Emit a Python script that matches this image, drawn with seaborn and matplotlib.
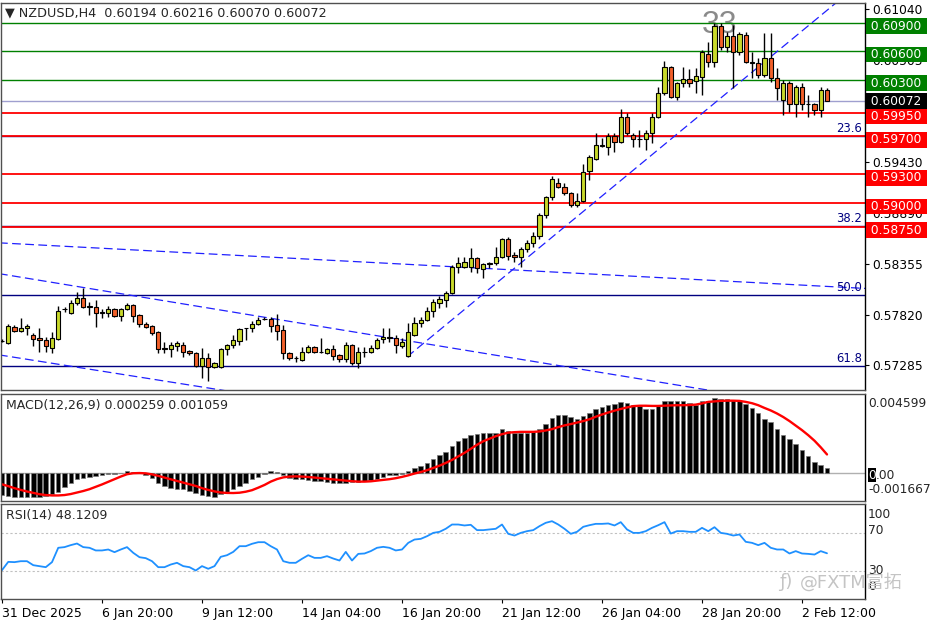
import matplotlib
matplotlib.use("Agg")
import matplotlib.pyplot as plt
import matplotlib.transforms as mtransforms
import numpy as np
import pandas as pd
import seaborn as sns

sns.set_theme(style="white")
plt.rcParams["font.family"] = ["DejaVu Sans", "Noto Sans CJK SC"]

# NZDUSD H4 candles
opens = [0.57546, 0.57524, 0.57695, 0.57649, 0.57675, 0.57606, 0.57576, 0.57551, 0.57468, 0.57566,
         0.57880, 0.57840, 0.57946, 0.57995, 0.57911, 0.57906, 0.57847, 0.57834, 0.57880, 0.57810,
         0.57880, 0.57923, 0.57817, 0.57722, 0.57702, 0.57636, 0.57466, 0.57458, 0.57491, 0.57501,
         0.57435, 0.57412, 0.57283, 0.57362, 0.57273, 0.57273, 0.57458, 0.57498, 0.57544, 0.57675,
         0.57679, 0.57722, 0.57774, 0.57777, 0.57712, 0.57656, 0.57412, 0.57365, 0.57345, 0.57422,
         0.57478, 0.57425, 0.57412, 0.57458, 0.57392, 0.57352, 0.57501, 0.57307, 0.57425, 0.57425,
         0.57468, 0.57566, 0.57589, 0.57573, 0.57491, 0.57385, 0.57606, 0.57735, 0.57767, 0.57857,
         0.57946, 0.57973, 0.58048, 0.58327, 0.58327, 0.58327, 0.58417, 0.58301, 0.58359, 0.58361,
         0.58433, 0.58621, 0.58450, 0.58427, 0.58512, 0.58578, 0.58651, 0.58872, 0.59066, 0.59205,
         0.59171, 0.59100, 0.58977, 0.59020, 0.59337, 0.59465, 0.59605, 0.59593, 0.59709, 0.59637,
         0.59904, 0.59716, 0.59676, 0.59673, 0.59733, 0.59904, 0.60155, 0.60432, 0.60121, 0.60261,
         0.60306, 0.60284, 0.60332, 0.60567, 0.60487, 0.60867, 0.60649, 0.60761, 0.60593, 0.60771,
         0.60488, 0.60472, 0.60349, 0.60527, 0.60322, 0.60085, 0.60267, 0.60040, 0.60221, 0.60040,
         0.60040, 0.59983, 0.60194]
highs = [0.57566, 0.57722, 0.57712, 0.57784, 0.57722, 0.57626, 0.57679, 0.57589, 0.57639, 0.57913,
         0.57900, 0.57973, 0.58061, 0.58101, 0.57956, 0.57973, 0.57880, 0.57913, 0.57893, 0.57893,
         0.57946, 0.57938, 0.57827, 0.57745, 0.57712, 0.57646, 0.57534, 0.57534, 0.57544, 0.57534,
         0.57445, 0.57425, 0.57468, 0.57412, 0.57320, 0.57471, 0.57511, 0.57606, 0.57685, 0.57682,
         0.57755, 0.57800, 0.57800, 0.57800, 0.57827, 0.57709, 0.57425, 0.57380, 0.57484, 0.57501,
         0.57491, 0.57573, 0.57471, 0.57501, 0.57405, 0.57534, 0.57511, 0.57484, 0.57484, 0.57501,
         0.57573, 0.57679, 0.57679, 0.57606, 0.57573, 0.57735, 0.57800, 0.57800, 0.57900, 0.57985,
         0.58018, 0.58071, 0.58344, 0.58433, 0.58433, 0.58525, 0.58430, 0.58364, 0.58377, 0.58538,
         0.58631, 0.58638, 0.58483, 0.58538, 0.58612, 0.58694, 0.58889, 0.59073, 0.59284, 0.59261,
         0.59211, 0.59116, 0.59100, 0.59406, 0.59505, 0.59733, 0.59683, 0.59733, 0.59739, 0.59993,
         0.59944, 0.59733, 0.59766, 0.59766, 0.59944, 0.60221, 0.60495, 0.60445, 0.60274, 0.60438,
         0.60412, 0.60422, 0.60613, 0.60699, 0.60894, 0.60894, 0.60804, 0.60877, 0.60798, 0.60804,
         0.60593, 0.60527, 0.60788, 0.60788, 0.60422, 0.60294, 0.60287, 0.60244, 0.60261, 0.60138,
         0.60050, 0.60227, 0.60216]
lows = [0.57531, 0.57511, 0.57636, 0.57636, 0.57606, 0.57491, 0.57428, 0.57428, 0.57418, 0.57551,
        0.57850, 0.57832, 0.57923, 0.57893, 0.57817, 0.57689, 0.57784, 0.57800, 0.57797, 0.57752,
        0.57868, 0.57745, 0.57695, 0.57679, 0.57606, 0.57418, 0.57418, 0.57378, 0.57438, 0.57378,
        0.57400, 0.57273, 0.57151, 0.57117, 0.57263, 0.57257, 0.57395, 0.57468, 0.57501, 0.57551,
        0.57639, 0.57712, 0.57762, 0.57639, 0.57551, 0.57352, 0.57345, 0.57323, 0.57330, 0.57412,
        0.57415, 0.57412, 0.57405, 0.57345, 0.57323, 0.57323, 0.57290, 0.57257, 0.57378, 0.57415,
        0.57461, 0.57518, 0.57534, 0.57412, 0.57468, 0.57375, 0.57596, 0.57695, 0.57752, 0.57800,
        0.57890, 0.57900, 0.58038, 0.58256, 0.58314, 0.58272, 0.58256, 0.58206, 0.58311, 0.58344,
        0.58417, 0.58394, 0.58377, 0.58327, 0.58483, 0.58538, 0.58618, 0.58839, 0.59027, 0.59155,
        0.59083, 0.58960, 0.58960, 0.59013, 0.59244, 0.59452, 0.59593, 0.59505, 0.59538, 0.59627,
        0.59716, 0.59593, 0.59593, 0.59558, 0.59627, 0.59894, 0.60138, 0.60105, 0.60085, 0.60221,
        0.60221, 0.60155, 0.60138, 0.60438, 0.60438, 0.60613, 0.60593, 0.60211, 0.60560, 0.60472,
        0.60316, 0.60316, 0.60332, 0.60277, 0.60085, 0.59927, 0.59960, 0.59910, 0.59983, 0.59904,
        0.59927, 0.59904, 0.60070]
closes = [0.57541, 0.57702, 0.57649, 0.57679, 0.57702, 0.57566, 0.57551, 0.57494, 0.57573, 0.57860,
          0.57883, 0.57946, 0.57995, 0.57906, 0.57903, 0.57834, 0.57842, 0.57880, 0.57810, 0.57880,
          0.57923, 0.57810, 0.57722, 0.57695, 0.57629, 0.57458, 0.57461, 0.57498, 0.57518, 0.57428,
          0.57412, 0.57283, 0.57362, 0.57273, 0.57307, 0.57458, 0.57498, 0.57551, 0.57672, 0.57679,
          0.57722, 0.57767, 0.57777, 0.57702, 0.57649, 0.57412, 0.57362, 0.57362, 0.57422, 0.57478,
          0.57422, 0.57422, 0.57458, 0.57385, 0.57352, 0.57501, 0.57307, 0.57432, 0.57422, 0.57468,
          0.57551, 0.57589, 0.57573, 0.57501, 0.57534, 0.57639, 0.57735, 0.57762, 0.57860, 0.57956,
          0.57985, 0.58051, 0.58327, 0.58367, 0.58371, 0.58423, 0.58311, 0.58351, 0.58361, 0.58433,
          0.58621, 0.58443, 0.58427, 0.58515, 0.58578, 0.58651, 0.58872, 0.59066, 0.59254, 0.59171,
          0.59100, 0.58977, 0.59020, 0.59327, 0.59482, 0.59610, 0.59603, 0.59709, 0.59637, 0.59904,
          0.59733, 0.59676, 0.59673, 0.59733, 0.59904, 0.60155, 0.60432, 0.60115, 0.60261, 0.60306,
          0.60267, 0.60339, 0.60590, 0.60487, 0.60867, 0.60649, 0.60761, 0.60593, 0.60781, 0.60482,
          0.60472, 0.60349, 0.60527, 0.60322, 0.60211, 0.60267, 0.60040, 0.60227, 0.60040, 0.60043,
          0.59983, 0.60195, 0.60072]

# MACD(12,26,9): histogram (main) and signal line
macd_main = [-0.001342, -0.001377, -0.001418, -0.001418, -0.001418, -0.001418, -0.001418, -0.001377, -0.001282, -0.001141,
             -0.000845, -0.000591, -0.000355, -0.000296, -0.000236, -0.000195, -0.000136, -0.000100, -0.000059, -0.000018,
             0.000100, 0.000018, -0.000041, -0.000160, -0.000296, -0.000591, -0.000786, -0.000887, -0.000946, -0.000987,
             -0.001082, -0.001223, -0.001342, -0.001377, -0.001418, -0.001282, -0.001141, -0.000987, -0.000786, -0.000591,
             -0.000396, -0.000236, -0.000100, 0.000077, 0.000059, -0.000160, -0.000296, -0.000355, -0.000396, -0.000431,
             -0.000491, -0.000491, -0.000532, -0.000591, -0.000632, -0.000591, -0.000550, -0.000550, -0.000491, -0.000431,
             -0.000355, -0.000236, -0.000160, -0.000136, -0.000059, 0.000100, 0.000254, 0.000396, 0.000573, 0.000810,
             0.001005, 0.001223, 0.001537, 0.001832, 0.002027, 0.002204, 0.002264, 0.002305, 0.002305, 0.002323,
             0.002524, 0.002405, 0.002305, 0.002305, 0.002323, 0.002364, 0.002559, 0.002855, 0.003191, 0.003386,
             0.003386, 0.003251, 0.003150, 0.003310, 0.003505, 0.003741, 0.003842, 0.003977, 0.004037, 0.004137,
             0.004096, 0.003977, 0.003901, 0.003741, 0.003741, 0.003942, 0.004178, 0.004178, 0.004178, 0.004178,
             0.004096, 0.003977, 0.004178, 0.004196, 0.004373, 0.004332, 0.004297, 0.004255, 0.004178, 0.004037,
             0.003782, 0.003505, 0.003150, 0.002955, 0.002559, 0.002204, 0.001968, 0.001673, 0.001300, 0.000946,
             0.000591, 0.000414, 0.000259]
macd_signal = [-0.000691, -0.000798, -0.000916, -0.001017, -0.001111, -0.001194, -0.001271, -0.001318, -0.001342, -0.001342,
               -0.001318, -0.001259, -0.001170, -0.001082, -0.000975, -0.000839, -0.000697, -0.000544, -0.000396, -0.000236,
               -0.000100, -0.000041, -0.000030, -0.000047, -0.000106, -0.000195, -0.000296, -0.000396, -0.000491, -0.000591,
               -0.000691, -0.000786, -0.000916, -0.001017, -0.001105, -0.001170, -0.001194, -0.001200, -0.001182, -0.001123,
               -0.001034, -0.000887, -0.000727, -0.000532, -0.000384, -0.000284, -0.000236, -0.000225, -0.000236, -0.000260,
               -0.000296, -0.000331, -0.000372, -0.000402, -0.000437, -0.000473, -0.000508, -0.000532, -0.000532, -0.000514,
               -0.000473, -0.000431, -0.000390, -0.000331, -0.000254, -0.000165, -0.000059, 0.000030, 0.000136, 0.000266,
               0.000402, 0.000561, 0.000739, 0.000946, 0.001152, 0.001389, 0.001625, 0.001832, 0.001980, 0.002128,
               0.002246, 0.002334, 0.002364, 0.002382, 0.002382, 0.002382, 0.002405, 0.002464, 0.002541, 0.002660,
               0.002760, 0.002837, 0.002925, 0.003014, 0.003120, 0.003268, 0.003398, 0.003516, 0.003623, 0.003723,
               0.003812, 0.003889, 0.003912, 0.003912, 0.003901, 0.003901, 0.003918, 0.003930, 0.003942, 0.003942,
               0.003954, 0.003977, 0.004048, 0.004137, 0.004167, 0.004196, 0.004208, 0.004208, 0.004196, 0.004137,
               0.004060, 0.003942, 0.003782, 0.003635, 0.003457, 0.003251, 0.003014, 0.002748, 0.002482, 0.002187,
               0.001862, 0.001478, 0.001059]

# RSI(14)
rsi = [30.4, 39.1, 38.8, 39.8, 39.8, 35.6, 34.6, 33.5, 38.8, 53.9,
       54.6, 56.7, 58.4, 54.6, 53.9, 51.1, 51.1, 52.1, 49.3, 52.1,
       54.6, 48.6, 44.0, 43.0, 39.8, 33.5, 33.5, 36.3, 38.1, 34.6,
       33.5, 30.0, 34.6, 31.8, 34.6, 44.4, 46.1, 49.6, 55.6, 55.6,
       58.1, 59.8, 59.8, 55.6, 52.1, 39.8, 38.1, 38.1, 42.3, 46.1,
       43.3, 43.3, 45.1, 42.6, 40.5, 49.6, 40.5, 47.5, 47.9, 50.4,
       53.9, 54.9, 53.9, 51.1, 52.1, 59.1, 62.6, 63.3, 66.1, 69.6,
       70.7, 73.9, 78.4, 78.4, 77.4, 78.1, 72.5, 72.5, 73.2, 73.9,
       78.4, 68.6, 66.8, 69.6, 71.4, 72.5, 76.7, 80.2, 81.9, 78.4,
       73.9, 68.6, 70.7, 76.0, 77.7, 79.1, 79.1, 79.5, 77.4, 80.9,
       73.2, 69.6, 69.6, 71.4, 74.9, 77.7, 80.9, 68.9, 71.4, 71.4,
       70.7, 70.7, 74.9, 71.4, 75.6, 69.6, 68.6, 66.8, 67.9, 60.2,
       59.1, 56.7, 59.1, 53.9, 52.1, 52.1, 47.9, 50.4, 47.9, 47.5,
       46.8, 50.4, 48.12]

date_ticks = [0, 16, 32, 48, 64, 80, 96, 112, 128]
date_labels = ["31 Dec 2025", "6 Jan 20:00", "9 Jan 12:00", "14 Jan 04:00", "16 Jan 20:00",
               "21 Jan 12:00", "26 Jan 04:00", "28 Jan 20:00", "2 Feb 12:00"]
price_ticks = [0.61040, 0.60505, 0.59430, 0.58890, 0.58355, 0.57820, 0.57285]

green_levels = [0.60900, 0.60600, 0.60300]
red_levels = [0.59950, 0.59700, 0.59300, 0.59000, 0.58750]
last_price = 0.60072
fib_levels = [0.59703, 0.58755, 0.58023, 0.57279]
fib_labels = ["23.6", "38.2", "50.0", "61.8"]

# dashed trend lines, (bar, price) anchors
trend_lines = [
    [(-1.0, 0.58580), (138.5, 0.58096)],
    [(-1.0, 0.58259), (115.0, 0.57003)],
    [(-1.0, 0.57402), (36.0, 0.57016)],
    [(64.8, 0.57375), (135.0, 0.61194)],
]

BULL = "#c9d92b"
BEAR = "#f2602a"

ohlc = pd.DataFrame({"open": opens, "high": highs, "low": lows, "close": closes})
ohlc["bar"] = np.arange(len(ohlc))
ohlc["up"] = ohlc["close"] >= ohlc["open"]
ind = pd.DataFrame({"bar": ohlc["bar"], "macd": macd_main, "signal": macd_signal, "rsi": rsi})

W, H = 936, 624
fig = plt.figure(figsize=(W / 100, H / 100), dpi=100)
fig.patch.set_facecolor("white")


def box(top, bottom):
    return [1 / W, 1 - bottom / H, 864 / W, (bottom - top) / H]


ax = fig.add_axes(box(3, 390))
ax_m = fig.add_axes(box(394, 501))
ax_r = fig.add_axes(box(504, 599))
xlim = (-0.16, 138.08)

for a in (ax, ax_m, ax_r):
    a.set_facecolor("white")
    a.grid(False)
    for s in a.spines.values():
        s.set_color("#505050")
        s.set_linewidth(1)
    a.spines["right"].set_color("black")

# ---- price panel ----
for lvl in fib_levels:
    ax.axhline(lvl, color="#000080", lw=1.0, zorder=1)
for lvl in green_levels:
    ax.axhline(lvl, color="#008000", lw=1.0, zorder=1.2)
for lvl in red_levels:
    ax.axhline(lvl, color="#ff0000", lw=1.3, zorder=1.2)
ax.axhline(last_price, color="#9f9fcf", lw=1.0, zorder=1.2)

for (x0, y0), (x1, y1) in trend_lines:
    ax.plot([x0, x1], [y0, y1], color="#2020ff", lw=0.9, linestyle=(0, (7, 3.5)), zorder=1.3)

ax.text(112, 0.60794, "33", fontsize=23, color="#8a8a8a", family="Liberation Sans",
        ha="left", va="baseline", zorder=1.1)

ax.vlines(ohlc["bar"], ohlc["low"], ohlc["high"], color="black", lw=1.0, zorder=3)
ax.bar(ohlc["bar"], (ohlc["close"] - ohlc["open"]).abs(),
       bottom=ohlc[["open", "close"]].min(axis=1), width=0.68,
       color=np.where(ohlc["up"], BULL, BEAR), edgecolor="black", linewidth=0.8, zorder=4)

ax.set_xlim(*xlim)
ax.set_ylim(0.57026, 0.61108)
ax.set_xticks([])
ax.yaxis.tick_right()
ax.set_yticks(price_ticks, [f"{p:.5f}" for p in price_ticks])
ax.tick_params(axis="y", right=True, left=False, length=3, width=0.8, pad=2.5,
               direction="out", labelsize=8.8, colors="black")

ytr = ax.get_yaxis_transform()
for lvl, lab in zip(fib_levels, fib_labels):
    ax.text(1, lvl, lab, fontsize=8.4, color="#000080", ha="right", va="bottom",
            transform=mtransforms.offset_copy(ytr, fig=fig, x=-3, y=1, units="dots"), zorder=6)


def level_box(level, color, dy):
    ax.text(1, level, f" {level:.5f} ", fontsize=8.8, color="white", ha="left", va="center",
            transform=mtransforms.offset_copy(ytr, fig=fig, x=2.2, y=dy, units="dots"),
            bbox=dict(boxstyle="square,pad=0.1", fc=color, ec="none"), clip_on=False, zorder=10)


for lvl in green_levels:
    level_box(lvl, "#008000", -3.5)
for lvl in red_levels:
    level_box(lvl, "#ff0000", -3.5)
level_box(last_price, "black", 0)

# ---- MACD panel ----
ax_m.axhline(0, color="#b0b0b0", lw=1.0, zorder=0.5)
sns.barplot(data=ind, x="bar", y="macd", native_scale=True, ax=ax_m, color="black",
            saturation=1, width=0.72, edgecolor="#7a7a7a", linewidth=0.5, errorbar=None)
sns.lineplot(data=ind, x="bar", y="signal", ax=ax_m, color="#ff0000", lw=1.7, errorbar=None)
ax_m.set_xlim(*xlim)
ax_m.set_ylim(-0.001667, 0.004599)
ax_m.set(xlabel=None, ylabel=None, xticks=[], yticks=[])

mtr = ax_m.get_yaxis_transform()
ax_m.text(1, 0.004599, "0.004599", fontsize=8.8, ha="left", va="top", clip_on=False,
          transform=mtransforms.offset_copy(mtr, fig=fig, x=3, y=-3, units="dots"))
# current-value marker on the first digit, rest of the label after it
ax_m.text(1, 0, "0", fontsize=8.8, ha="left", va="center", color="white", clip_on=False,
          bbox=dict(boxstyle="square,pad=0.02", fc="black", ec="none"),
          transform=mtransforms.offset_copy(mtr, fig=fig, x=3, y=-2.5, units="dots"))
ax_m.text(1, 0, ".00", fontsize=8.8, ha="left", va="center", clip_on=False,
          transform=mtransforms.offset_copy(mtr, fig=fig, x=11.2, y=-2.5, units="dots"))
ax_m.text(1, -0.001667, "-0.001667", fontsize=8.8, ha="left", va="bottom", clip_on=False,
          transform=mtransforms.offset_copy(mtr, fig=fig, x=3, y=5, units="dots"))

# ---- RSI panel ----
for lvl in (70, 30):
    ax_r.axhline(lvl, color="#c0c0c0", lw=0.8, linestyle=(0, (2, 2)), zorder=0.5)
sns.lineplot(data=ind, x="bar", y="rsi", ax=ax_r, color="#1e90ff", lw=1.3, errorbar=None)
ax_r.set_xlim(*xlim)
ax_r.set_ylim(0, 100)
ax_r.set(xlabel=None, ylabel=None, yticks=[])
ax_r.set_xticks(date_ticks, date_labels)
for lab in ax_r.get_xticklabels():
    lab.set_horizontalalignment("left")
ax_r.tick_params(axis="x", bottom=True, length=3, width=0.8, pad=3, direction="out",
                 labelsize=9, colors="black")

rtr = ax_r.get_yaxis_transform()
for val, lab, dy in [(100, "100", -11), (70, "70", 2.5), (30, "30", 0), (0, "0", 12)]:
    ax_r.text(1, val, lab, fontsize=8.8, ha="left", va="center", clip_on=False,
              transform=mtransforms.offset_copy(rtr, fig=fig, x=3, y=dy, units="dots"))

# ---- captions ----
fig.text(5 / W, 1 - 13 / H, "\u25bc NZDUSD,H4  0.60194 0.60216 0.60070 0.60072",
         fontsize=9.2, va="center", ha="left")
fig.text(6 / W, 1 - 405 / H, "MACD(12,26,9) 0.000259 0.001059", fontsize=9, va="center", ha="left")
fig.text(6 / W, 1 - 516 / H, "RSI(14) 48.1209", fontsize=9, va="center", ha="left")

fig.text(779 / W, 1 - 582 / H, "\u0192)", fontsize=13, color="#c4c4c4", va="center", ha="left")
fig.text(800 / W, 1 - 582 / H, "@FXTM富拓", fontsize=13, color="#c4c4c4", va="center", ha="left")

fig.savefig("out.png", dpi=100, facecolor="white")
